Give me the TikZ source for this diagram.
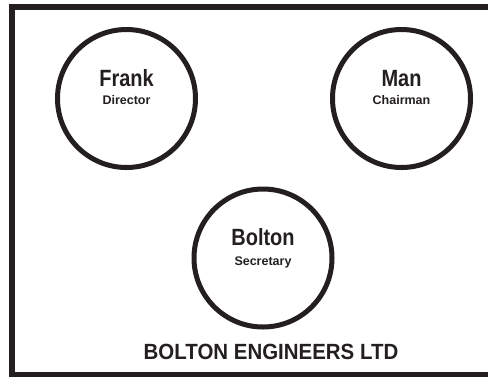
\documentclass[tikz,border=0pt]{standalone}
\usepackage{graphicx}
\usepackage{fontspec}
\setmainfont{Liberation Sans}
\usetikzlibrary{positioning}
\definecolor{ink}{HTML}{231F20}
\newcommand{\squeeze}[2]{\scalebox{#1}[1]{#2}}
\tikzstyle{person} = [circle, draw=ink, line width=5pt, minimum size=138pt, inner sep=0pt]
\tikzstyle{nametext} = [font=\bfseries\fontsize{23.5}{28}\selectfont, text=ink, anchor=base, inner sep=0pt]
\tikzstyle{roletext} = [font=\bfseries\fontsize{12.5}{15}\selectfont, text=ink, anchor=base, inner sep=0pt]
\tikzstyle{firmtext} = [font=\bfseries\fontsize{22}{26}\selectfont, text=ink, anchor=base, inner sep=0pt]

\begin{document}
\begin{tikzpicture}[x=1pt, y=-1pt]
	\useasboundingbox (0,0) rectangle (488,376);
	\draw [ink, line width=6pt] (12,7) rectangle (493,375);

	\node (frank) [person] at (126.5,98.5) {};
	\node (man) [person] at (401.5,98.5) {};
	\node (bolton) [person] at (263,258) {};

	\node (frankname) [nametext] at ([yshift=12.5pt]frank.center) {\squeeze{0.85}{Frank}};
	\node (frankrole) [roletext] at ([yshift=-6pt]frank.center) {Director};
	\node (manname) [nametext] at ([yshift=12.5pt]man.center) {\squeeze{0.85}{Man}};
	\node (manrole) [roletext] at ([yshift=-6pt]man.center) {Chairman};
	\node (boltonname) [nametext] at ([yshift=13pt]bolton.center) {\squeeze{0.85}{Bolton}};
	\node (boltonrole) [roletext] at ([yshift=-7pt]bolton.center) {Secretary};

	\node (firm) [firmtext] at (271,359) {\squeeze{0.93}{BOLTON ENGINEERS LTD}};

\end{tikzpicture}
\end{document}
